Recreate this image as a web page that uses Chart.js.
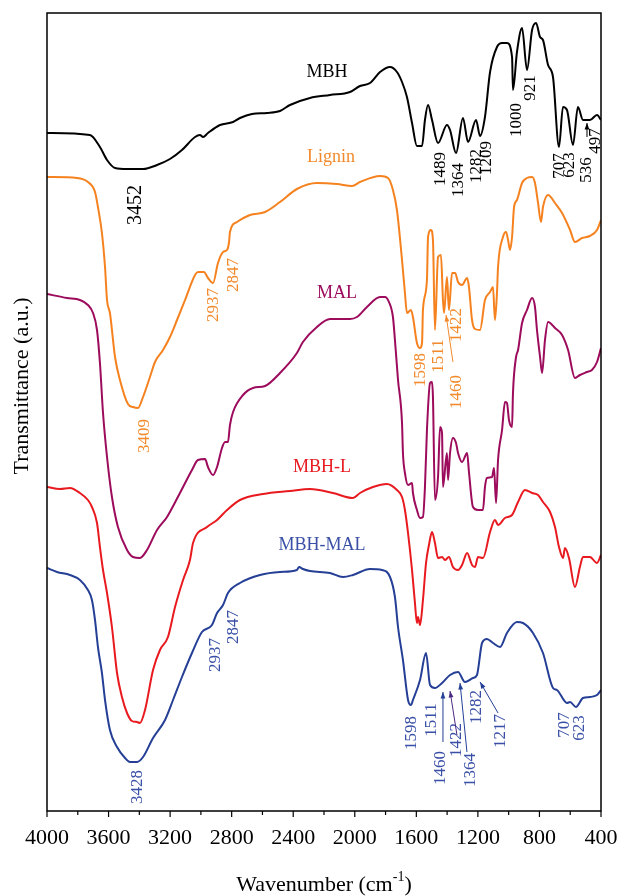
<!DOCTYPE html>
<html lang="en">
<head>
<meta charset="UTF-8" />
<title>FTIR spectra</title>
<script src="https://cdn.jsdelivr.net/npm/chart.js"></script>
<style>
  html, body { margin: 0; padding: 0; background: #fff; }
</style>
</head>
<body>
<canvas id="ftir" width="619" height="896"></canvas>
<script>
// Wavenumber (cm-1) and offset transmittance (a.u.) for each spectrum
const mbhWn = [4000,3721,3656,3610,3558,3480,3376,3285,3201,3123,3038,3006,2986,2954,2876,2791,2746,2668,2570,2486,2421,2291,2161,2031,1966,1901,1836,1771,1726,1693,1661,1628,1596,1563,1544,1524,1498,1459,1401,1381,1342,1297,1264,1212,1186,1154,1121,1076,1043,1011,978,972,946,913,881,848,822,796,777,744,712,673,647,621,582,550,517,472,426,400];
const mbhT = [678,676,664,651,643,642,642,646,652,661,674,676,674,678,686,689,693,697,698,700,706,713,716,719,725,728,739,744,739,729,714,688,665,665,691,706,691,668,686,681,658,693,669,691,675,694,739,764,768,768,754,721,759,783,741,781,788,774,771,746,734,664,704,701,666,704,691,691,696,691];

const ligninWn = [4000,3805,3734,3688,3669,3643,3623,3610,3591,3558,3526,3474,3441,3409,3376,3331,3298,3246,3201,3155,3103,3038,3019,2980,2954,2921,2889,2856,2830,2817,2811,2765,2681,2583,2486,2376,2246,2116,2018,1966,1836,1784,1752,1726,1693,1674,1661,1635,1622,1596,1576,1563,1557,1531,1524,1505,1492,1479,1459,1440,1427,1420,1401,1388,1368,1348,1329,1303,1270,1258,1238,1219,1186,1154,1121,1102,1089,1076,1069,1037,1017,1004,991,978,965,946,913,881,848,829,809,790,777,744,699,653,601,569,523,472,426,400];
const ligninT = [634,633,629,619,604,578,544,511,498,454,431,407,404,403,414,434,449,461,474,491,511,536,539,539,533,528,548,559,561,569,579,589,596,599,609,622,628,627,625,629,635,633,621,601,551,518,498,501,494,468,463,468,501,531,574,581,571,481,554,556,511,498,534,501,538,538,529,526,533,524,491,482,481,511,519,524,491,518,544,574,579,571,561,574,604,611,628,633,634,628,608,589,604,616,608,598,581,569,573,575,581,591];

const malWn = [4000,3870,3786,3734,3701,3675,3656,3636,3610,3578,3539,3480,3441,3396,3350,3285,3220,3136,3058,3019,2973,2954,2921,2895,2863,2843,2824,2811,2791,2726,2661,2583,2486,2376,2337,2246,2161,2031,1986,1921,1836,1804,1778,1752,1739,1719,1693,1687,1674,1654,1628,1622,1596,1576,1557,1544,1531,1511,1498,1492,1479,1459,1446,1433,1427,1401,1394,1381,1362,1342,1329,1303,1270,1258,1232,1199,1167,1154,1141,1108,1095,1082,1069,1043,1024,1011,998,978,972,952,939,913,881,848,829,816,796,783,764,744,699,653,614,569,537,491,459,426,400];
const malT = [517,513,511,506,498,481,448,398,354,314,284,261,254,253,261,281,294,318,341,351,352,344,336,344,363,369,369,386,399,416,423,425,438,458,469,484,492,492,494,504,514,514,509,494,471,431,388,358,338,326,328,318,301,293,294,324,381,428,429,414,311,334,384,378,324,358,331,358,373,368,358,349,358,339,304,301,301,324,333,334,343,308,351,381,409,408,391,384,418,454,461,488,501,513,504,481,454,438,471,489,483,476,461,433,436,439,441,449,463];

const mbhLWn = [4000,3916,3851,3786,3734,3708,3675,3656,3636,3610,3578,3545,3513,3480,3448,3415,3396,3363,3311,3266,3214,3168,3116,3071,3051,2960,2895,2830,2746,2596,2421,2291,2142,2012,1966,1882,1791,1726,1693,1674,1654,1628,1609,1596,1589,1576,1557,1537,1518,1498,1479,1459,1433,1414,1388,1362,1329,1303,1270,1238,1219,1199,1167,1121,1089,1069,1024,978,939,894,848,809,777,731,699,673,647,634,608,569,537,517,472,426,400];
const mbhLT = [324,322,323,318,311,304,288,264,241,218,184,138,114,98,90,89,88,101,141,161,174,204,231,251,268,284,291,301,311,317,320,322,318,313,318,324,327,321,314,301,278,241,208,188,194,186,211,248,266,279,268,253,254,251,254,244,241,246,258,246,244,254,253,279,291,286,293,296,309,321,318,316,309,299,284,264,253,263,253,224,244,254,254,248,256];

const mbhMalWn = [4000,3935,3851,3786,3734,3708,3688,3669,3643,3623,3591,3545,3493,3461,3415,3376,3311,3233,3181,3123,3058,2993,2928,2895,2856,2824,2746,2616,2486,2376,2362,2337,2291,2161,2077,2012,1901,1823,1771,1739,1719,1687,1654,1635,1622,1576,1537,1511,1479,1433,1381,1329,1284,1232,1206,1173,1141,1102,1056,1011,946,907,842,777,712,686,621,601,563,517,472,426,400];
const mbhMalT = [243,239,236,231,221,211,191,164,138,111,81,64,53,49,49,54,73,91,111,134,158,179,186,198,206,218,228,236,239,241,244,242,240,238,234,236,242,241,234,214,184,151,111,106,111,131,158,126,123,128,136,139,129,133,136,168,172,168,164,178,189,188,178,158,123,121,108,109,104,113,114,116,121];

const seriesNames = ['MBH', 'Lignin', 'MAL', 'MBH-L', 'MBH-MAL'];
const xTickStep = 400;

const FONT = '"Liberation Serif", "Times New Roman", serif';
const colors = {
  mbh: '#000000',
  lignin: '#f5821f',
  ligninText: '#f28a2c',
  mal: '#9c0b5c',
  mbhL: '#e81a1f',
  mbhMal: '#253f96',
  mbhMalText: '#3a50a6'
};

// name tags beside each spectrum: [text, wavenumber, transmittance, color]
const nameTags = [
  [seriesNames[0], 2181, 739, colors.mbh],
  [seriesNames[1], 2155, 654, colors.ligninText],
  [seriesNames[2], 2116, 518, colors.mal],
  [seriesNames[3], 2213, 344, colors.mbhL],
  [seriesNames[4], 2213, 266, colors.mbhMalText]
];

// vertical band assignments: [text, wavenumber, transmittance, color, size]
const bandTags = [
  ['3452', 3422, 606, colors.mbh, 20],
  ['1489', 1446, 642, colors.mbh, 17],
  ['1364', 1329, 631, colors.mbh, 17],
  ['1282', 1212, 645, colors.mbh, 17],
  ['1209', 1147, 653, colors.mbh, 17],
  ['1000', 946, 691, colors.mbh, 17],
  ['921', 855, 723, colors.mbh, 17],
  ['707', 667, 645, colors.mbh, 17],
  ['623', 602, 646, colors.mbh, 17],
  ['536', 491, 641, colors.mbh, 17],
  ['497', 433, 670, colors.mbh, 17],

  ['3409', 3363, 375, colors.ligninText, 17],
  ['2937', 2915, 506, colors.ligninText, 17],
  ['2847', 2785, 536, colors.ligninText, 17],
  ['1598', 1570, 441, colors.ligninText, 17],
  ['1511', 1459, 455, colors.ligninText, 17],
  ['1422', 1336, 486, colors.ligninText, 17],
  ['1460', 1336, 419, colors.ligninText, 17],

  ['3428', 3409, 24, colors.mbhMalText, 17],
  ['2937', 2908, 156, colors.mbhMalText, 17],
  ['2847', 2791, 184, colors.mbhMalText, 17],
  ['1598', 1628, 78, colors.mbhMalText, 17],
  ['1511', 1498, 91, colors.mbhMalText, 17],
  ['1460', 1446, 43, colors.mbhMalText, 17],
  ['1422', 1342, 71, colors.mbhMalText, 17],
  ['1364', 1251, 41, colors.mbhMalText, 17],
  ['1282', 1206, 104, colors.mbhMalText, 17],
  ['1217', 1056, 80, colors.mbhMalText, 17],
  ['707', 634, 86, colors.mbhMalText, 17],
  ['623', 537, 83, colors.mbhMalText, 17]
];

// pointer arrows: [fromWn, fromT, toWn, toT, color]
const pointers = [
  [491, 674, 491, 688, colors.mbh],
  [1362, 449, 1407, 496, colors.ligninText],
  [1427, 69, 1427, 119, colors.mbhMal],
  [1336, 76, 1381, 120, '#4a2a80'],
  [1271, 59, 1316, 128, colors.mbhMal],
  [1069, 98, 1186, 129, colors.mbhMal]
];

function toPoints(wn, t) {
  return wn.map((x, i) => ({ x: x, y: t[i] }));
}

function spectrum(label, wn, t, color) {
  return {
    label: label,
    data: toPoints(wn, t),
    borderColor: color,
    borderWidth: 2,
    pointRadius: 0,
    fill: false,
    cubicInterpolationMode: 'monotone'
  };
}

function vText(ctx, txt, x, y, color, size) {
  ctx.save();
  ctx.translate(x, y);
  ctx.rotate(-Math.PI / 2);
  ctx.font = size + 'px ' + FONT;
  ctx.fillStyle = color;
  ctx.textAlign = 'center';
  ctx.textBaseline = 'middle';
  ctx.fillText(txt, 0, 0);
  ctx.restore();
}

function arrow(ctx, x1, y1, x2, y2, color) {
  const a = Math.atan2(y2 - y1, x2 - x1);
  ctx.save();
  ctx.strokeStyle = color;
  ctx.fillStyle = color;
  ctx.lineWidth = 1;
  ctx.beginPath();
  ctx.moveTo(x1, y1);
  ctx.lineTo(x2, y2);
  ctx.stroke();
  ctx.beginPath();
  ctx.moveTo(x2, y2);
  ctx.lineTo(x2 - 7 * Math.cos(a - 0.35), y2 - 7 * Math.sin(a - 0.35));
  ctx.lineTo(x2 - 7 * Math.cos(a + 0.35), y2 - 7 * Math.sin(a + 0.35));
  ctx.closePath();
  ctx.fill();
  ctx.restore();
}

const decorations = {
  id: 'decorations',
  afterDraw(chart) {
    const { ctx, chartArea: area, scales: { x, y } } = chart;

    // frame
    ctx.save();
    ctx.strokeStyle = '#000';
    ctx.lineWidth = 1.5;
    ctx.strokeRect(area.left, area.top, area.right - area.left, area.bottom - area.top);

    // major and minor ticks on the wavenumber axis
    ctx.lineWidth = 1.2;
    for (let v = 400; v <= 4000; v += 200) {
      const px = x.getPixelForValue(v);
      const len = v % xTickStep === 0 ? 6 : 4;
      ctx.beginPath();
      ctx.moveTo(px, area.bottom);
      ctx.lineTo(px, area.bottom + len);
      ctx.stroke();
    }
    ctx.restore();

    // series names
    ctx.save();
    ctx.font = '18px ' + FONT;
    ctx.textAlign = 'center';
    ctx.textBaseline = 'middle';
    nameTags.forEach(([txt, wn, t, c]) => {
      ctx.fillStyle = c;
      ctx.fillText(txt, x.getPixelForValue(wn), y.getPixelForValue(t));
    });
    ctx.restore();

    bandTags.forEach(([txt, wn, t, c, s]) => {
      vText(ctx, txt, x.getPixelForValue(wn), y.getPixelForValue(t), c, s);
    });

    pointers.forEach(([w1, t1, w2, t2, c]) => {
      arrow(ctx, x.getPixelForValue(w1), y.getPixelForValue(t1),
        x.getPixelForValue(w2), y.getPixelForValue(t2), c);
    });

    // axis titles
    ctx.save();
    ctx.fillStyle = '#000';
    ctx.font = '22px ' + FONT;
    ctx.textBaseline = 'alphabetic';
    const main = 'Wavenumber (cm';
    const sup = '-1';
    const wMain = ctx.measureText(main).width;
    ctx.font = '14px ' + FONT;
    const wSup = ctx.measureText(sup).width;
    ctx.font = '22px ' + FONT;
    const wEnd = ctx.measureText(')').width;
    const total = wMain + wSup + wEnd;
    const tx = (area.left + area.right) / 2 - total / 2;
    const ty = 891;
    ctx.textAlign = 'left';
    ctx.fillText(main, tx, ty);
    ctx.font = '14px ' + FONT;
    ctx.fillText(sup, tx + wMain, ty - 10);
    ctx.font = '22px ' + FONT;
    ctx.fillText(')', tx + wMain + wSup, ty);
    ctx.restore();

    vText(ctx, 'Transmittance (a.u.)', 22, 386, '#000', 22);
  }
};

new Chart(document.getElementById('ftir'), {
  type: 'line',
  data: {
    datasets: [
      spectrum(seriesNames[0], mbhWn, mbhT, colors.mbh),
      spectrum(seriesNames[1], ligninWn, ligninT, colors.lignin),
      spectrum(seriesNames[2], malWn, malT, colors.mal),
      spectrum(seriesNames[3], mbhLWn, mbhLT, colors.mbhL),
      spectrum(seriesNames[4], mbhMalWn, mbhMalT, colors.mbhMal)
    ]
  },
  options: {
    responsive: false,
    animation: false,
    events: [],
    layout: { padding: { top: 13, right: 18, left: 0, bottom: 0 } },
    plugins: { legend: { display: false }, tooltip: { enabled: false } },
    scales: {
      x: {
        type: 'linear',
        reverse: true,
        min: 400,
        max: 4000,
        grid: { display: false, drawTicks: false },
        border: { display: false },
        ticks: {
          stepSize: xTickStep,
          padding: 14,
          color: '#000',
          maxRotation: 0,
          autoSkip: false,
          font: { family: FONT, size: 22 },
          callback: (v) => String(v)
        },
        afterFit(scale) {
          scale.height = 85;
          scale.paddingLeft = 0;
          scale.paddingRight = 0;
        }
      },
      y: {
        min: 0,
        max: 798,
        grid: { display: false, drawTicks: false },
        border: { display: false },
        ticks: { display: false },
        afterFit(scale) { scale.width = 47; }
      }
    }
  },
  plugins: [decorations]
});
</script>
</body>
</html>
